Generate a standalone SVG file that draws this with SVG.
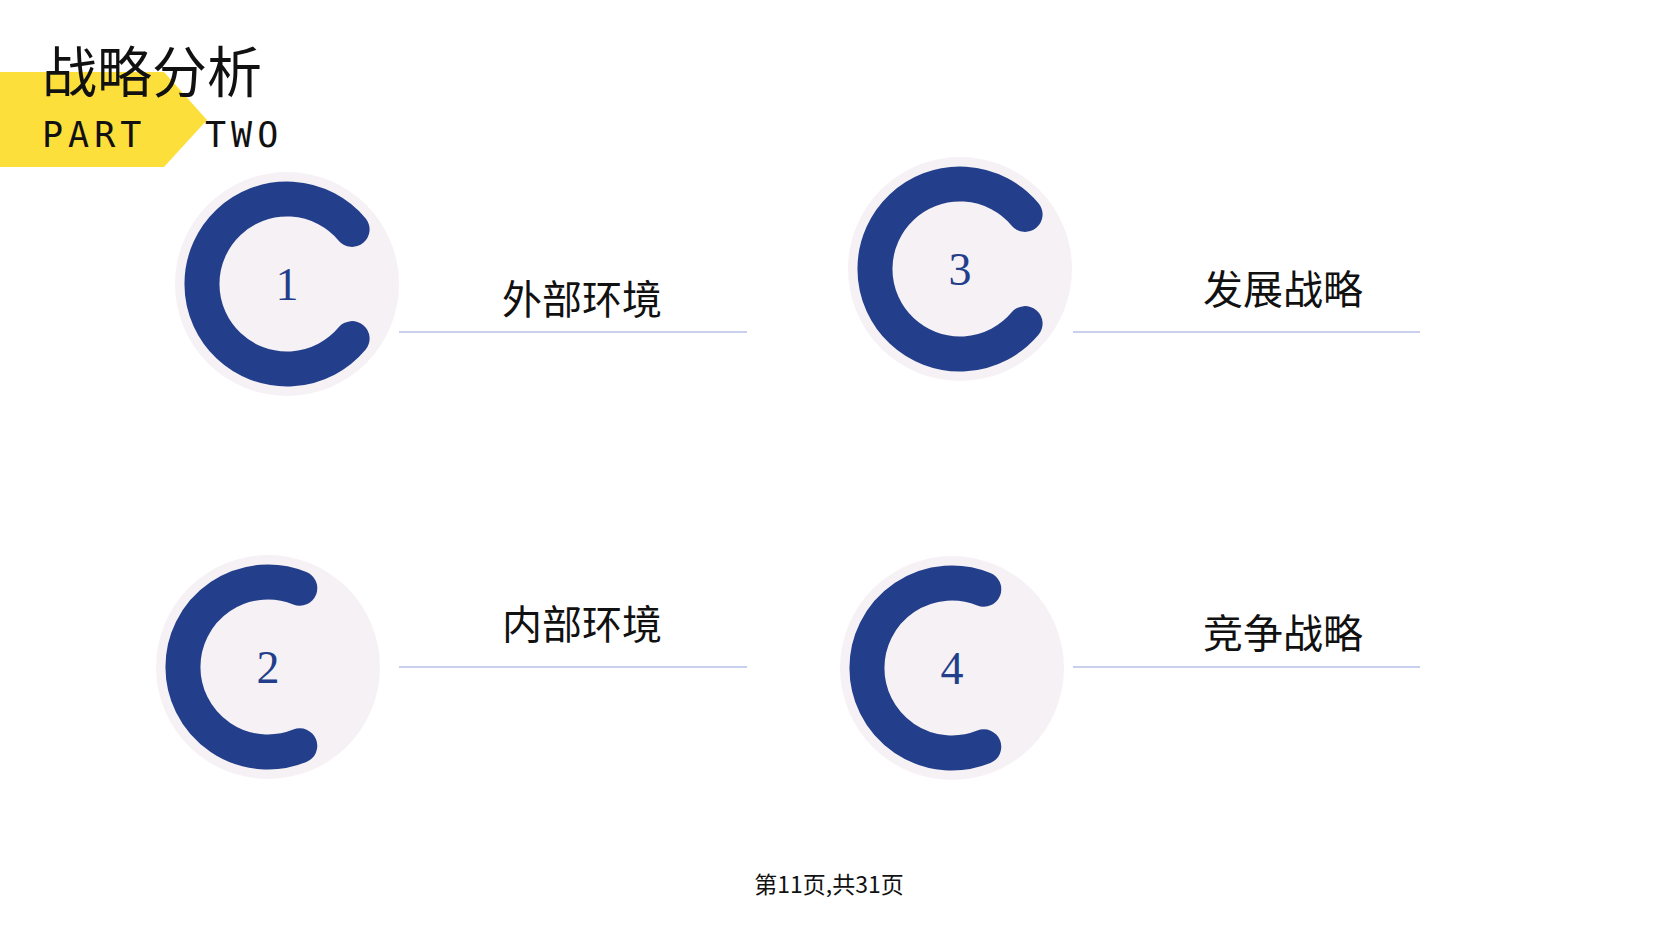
<svg xmlns="http://www.w3.org/2000/svg" width="1653" height="929" viewBox="0 0 1653 929">
<defs>
<style>
.cj{font-family:"Noto Sans CJK SC","Noto Sans",sans-serif;fill:#111}
.bg{fill:#f6f1f5}
.ring{fill:none;stroke:#233f8b;stroke-width:35;stroke-linecap:round}
.num{font-family:"Liberation Serif",serif;font-size:46px;fill:#233f8b;text-anchor:middle}
.ln{stroke:#c9d0ee;stroke-width:2}
.lab{font-size:40px;text-anchor:middle}
.part{font-family:"DejaVu Sans Mono","Liberation Mono",monospace;font-size:35px;fill:#111;letter-spacing:5px}
</style>
<path id="c" d="M65.1,-54.6 A85,85 0 1 0 65.1,54.6"/>
<path id="c2" d="M31.8,-78.8 A85,85 0 1 0 31.8,78.8"/>
</defs>
<rect width="1653" height="929" fill="#fff"/>
<g id="header">
<polygon points="0,72 164,72 207,120 164,167 0,167" fill="#fddf3c"/>
<text x="42" y="92" class="cj" font-size="55">战略分析</text>
<text x="42" y="147" class="part">PART</text>
<text x="205" y="147" class="part">TWO</text>
</g>
<g id="connectors">
<line class="ln" x1="399" y1="332" x2="747" y2="332"/>
<line class="ln" x1="1073" y1="332" x2="1420" y2="332"/>
<line class="ln" x1="399" y1="667" x2="747" y2="667"/>
<line class="ln" x1="1073" y1="667" x2="1420" y2="667"/>
</g>
<g id="node1" transform="translate(287,284)">
<circle class="bg" r="112"/><use href="#c" class="ring"/>
<text class="num" y="16">1</text>
</g>
<text id="label1" x="582" y="314" class="cj lab">外部环境</text>
<g id="node3" transform="translate(960,269)">
<circle class="bg" r="112"/><use href="#c" class="ring"/>
<text class="num" y="16">3</text>
</g>
<text id="label3" x="1283" y="304" class="cj lab">发展战略</text>
<g id="node2" transform="translate(268,667)">
<circle class="bg" r="112"/><use href="#c2" class="ring"/>
<text class="num" y="16">2</text>
</g>
<text id="label2" x="582" y="639" class="cj lab">内部环境</text>
<g id="node4" transform="translate(952,668)">
<circle class="bg" r="112"/><use href="#c2" class="ring"/>
<text class="num" y="16">4</text>
</g>
<text id="label4" x="1283" y="648" class="cj lab">竞争战略</text>
<text id="footer" x="829" y="893" class="cj" font-size="23" text-anchor="middle">第11页,共31页</text>
</svg>
